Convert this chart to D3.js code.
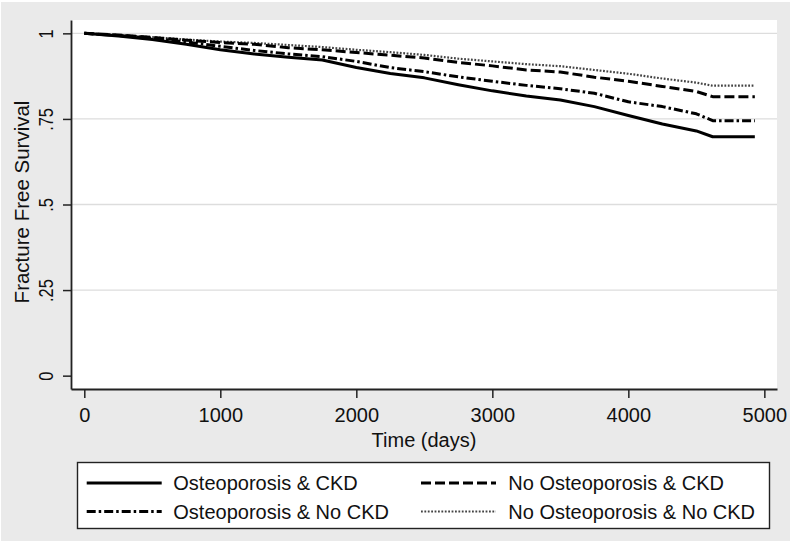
<!DOCTYPE html>
<html>
<head>
<meta charset="utf-8">
<script src="https://cdn.jsdelivr.net/npm/d3@7"></script>
<style>
  html, body { margin: 0; padding: 0; background: #ffffff; }
  svg { display: block; font-family: "Liberation Sans", Arial, sans-serif; }
</style>
</head>
<body>
<svg id="chart" width="793" height="542"></svg>
<script>
// ---- data ----
const times = [0, 250, 500, 750, 1000, 1250, 1500, 1750, 2000, 2250, 2500, 2750, 3000, 3250, 3500, 3750, 4000, 4250, 4500, 4620, 4930];
const osteoCKD     = [1.0, 0.992, 0.982, 0.968, 0.952, 0.940, 0.930, 0.922, 0.900, 0.883, 0.870, 0.850, 0.832, 0.817, 0.805, 0.786, 0.760, 0.735, 0.715, 0.698, 0.698];
const osteoNoCKD   = [1.0, 0.994, 0.985, 0.975, 0.962, 0.950, 0.940, 0.932, 0.918, 0.900, 0.888, 0.873, 0.860, 0.848, 0.838, 0.825, 0.800, 0.786, 0.765, 0.745, 0.745];
const noOsteoCKD   = [1.0, 0.995, 0.988, 0.980, 0.973, 0.968, 0.958, 0.952, 0.944, 0.936, 0.928, 0.915, 0.905, 0.893, 0.887, 0.872, 0.860, 0.845, 0.830, 0.815, 0.815];
const noOsteoNoCKD = [1.0, 0.995, 0.989, 0.982, 0.976, 0.972, 0.966, 0.960, 0.952, 0.945, 0.937, 0.926, 0.918, 0.910, 0.904, 0.893, 0.882, 0.868, 0.856, 0.847, 0.847];
const seriesNames = ["Osteoporosis & CKD", "No Osteoporosis & CKD", "Osteoporosis & No CKD", "No Osteoporosis & No CKD"];
const xTicks = [0, 1000, 2000, 3000, 4000, 5000];
const yTicks = [0, 0.25, 0.5, 0.75, 1];
const yTickLabels = ["0", ".25", ".5", ".75", "1"];
const xTitle = "Time (days)";
const yTitle = "Fracture Free Survival";

// ---- styles ----
const seriesValues = [osteoCKD, noOsteoCKD, osteoNoCKD, noOsteoNoCKD];
const styles = [
  { color: "#000", width: 3, dash: null },
  { color: "#000", width: 3, dash: "10,4" },
  { color: "#000", width: 3, dash: "9,3,2.5,3" },
  { color: "#444", width: 2.2, dash: "1.8,1.6" }
];

const svg = d3.select("#chart");
const W = 793, H = 542;
const plot = { left: 71, right: 777, top: 20, bottom: 389 };

// background
svg.append("rect").attr("x", 0).attr("y", 0).attr("width", W).attr("height", H).attr("fill", "#ffffff");
svg.append("rect").attr("x", 1).attr("y", 2).attr("width", 789).attr("height", 539).attr("fill", "#eaeaea");
svg.append("rect").attr("x", plot.left).attr("y", plot.top)
  .attr("width", plot.right - plot.left).attr("height", plot.bottom - plot.top).attr("fill", "#ffffff");

const x = d3.scaleLinear().domain([-97.8, 5093]).range([plot.left, plot.right]);
const y = d3.scaleLinear().domain([-0.039, 1.039]).range([plot.bottom, plot.top]);

// gridlines
svg.append("g").selectAll("line").data(yTicks.filter(d => d > 0)).join("line")
  .attr("x1", plot.left).attr("x2", plot.right)
  .attr("y1", d => y(d)).attr("y2", d => y(d))
  .attr("stroke", "#dddddd").attr("stroke-width", 1.4);

// series
const line = d3.line().x(d => x(d[0])).y(d => y(d[1])).curve(d3.curveLinear);
const drawOrder = [3, 1, 2, 0];
drawOrder.forEach(i => {
  const pts = times.map((t, k) => [t, seriesValues[i][k]]);
  svg.append("path").datum(pts)
    .attr("d", line)
    .attr("fill", "none")
    .attr("stroke", styles[i].color)
    .attr("stroke-width", styles[i].width)
    .attr("stroke-dasharray", styles[i].dash)
    .attr("stroke-linejoin", "round");
});

// axes
const xAxis = d3.axisBottom(x).tickValues(xTicks).tickSize(9).tickSizeOuter(0)
  .tickFormat(d3.format("d"));
const gx = svg.append("g").attr("transform", `translate(0,${plot.bottom})`).call(xAxis);
gx.select(".domain").attr("stroke", "#222").attr("stroke-width", 1.8);
gx.selectAll(".tick line").attr("stroke", "#222").attr("stroke-width", 1.5);
gx.selectAll(".tick text").attr("font-size", 20).attr("fill", "#111")
  .attr("font-family", "'Liberation Sans', Arial, sans-serif")
  .attr("y", 0).attr("dy", 0).attr("transform", "translate(0,32.5)");

const yAxis = d3.axisLeft(y).tickValues(yTicks).tickSize(8).tickSizeOuter(0)
  .tickFormat((d, i) => yTickLabels[i]);
const gy = svg.append("g").attr("transform", `translate(${plot.left},0)`).call(yAxis);
gy.select(".domain").attr("stroke", "#222").attr("stroke-width", 1.8);
gy.selectAll(".tick line").attr("stroke", "#222").attr("stroke-width", 1.5);
gy.selectAll(".tick text").attr("font-size", 20).attr("fill", "#111")
  .attr("font-family", "'Liberation Sans', Arial, sans-serif")
  .attr("x", 0).attr("dy", 0).attr("text-anchor", "middle")
  .attr("transform", "translate(-18,0) rotate(-90) scale(0.82,1)");

// axis titles
svg.append("text").attr("x", (plot.left + plot.right) / 2).attr("y", 446.5)
  .attr("text-anchor", "middle").attr("font-size", 20).attr("fill", "#111").text(xTitle);
svg.append("text").attr("transform", `translate(28.5,${202}) rotate(-90)`)
  .attr("text-anchor", "middle").attr("font-size", 20.5).attr("fill", "#111").text(yTitle);

// legend
const lg = svg.append("g");
lg.append("rect").attr("x", 77.5).attr("y", 462.5).attr("width", 692).attr("height", 66)
  .attr("fill", "#ffffff").attr("stroke", "#222").attr("stroke-width", 1.4);
const legendPos = [
  { lx: 86.7, tx: 173.3, cy: 483 },
  { lx: 421, tx: 508.3, cy: 483 },
  { lx: 86.7, tx: 173.3, cy: 511.5 },
  { lx: 421, tx: 508.3, cy: 511.5 }
];
seriesNames.forEach((name, i) => {
  const p = legendPos[i];
  lg.append("line").attr("x1", p.lx).attr("x2", p.lx + 75).attr("y1", p.cy).attr("y2", p.cy)
    .attr("stroke", styles[i].color).attr("stroke-width", styles[i].width)
    .attr("stroke-dasharray", styles[i].dash);
  lg.append("text").attr("x", p.tx).attr("y", p.cy + 7).attr("font-size", 20)
    .attr("fill", "#111").text(name);
});
</script>
</body>
</html>
